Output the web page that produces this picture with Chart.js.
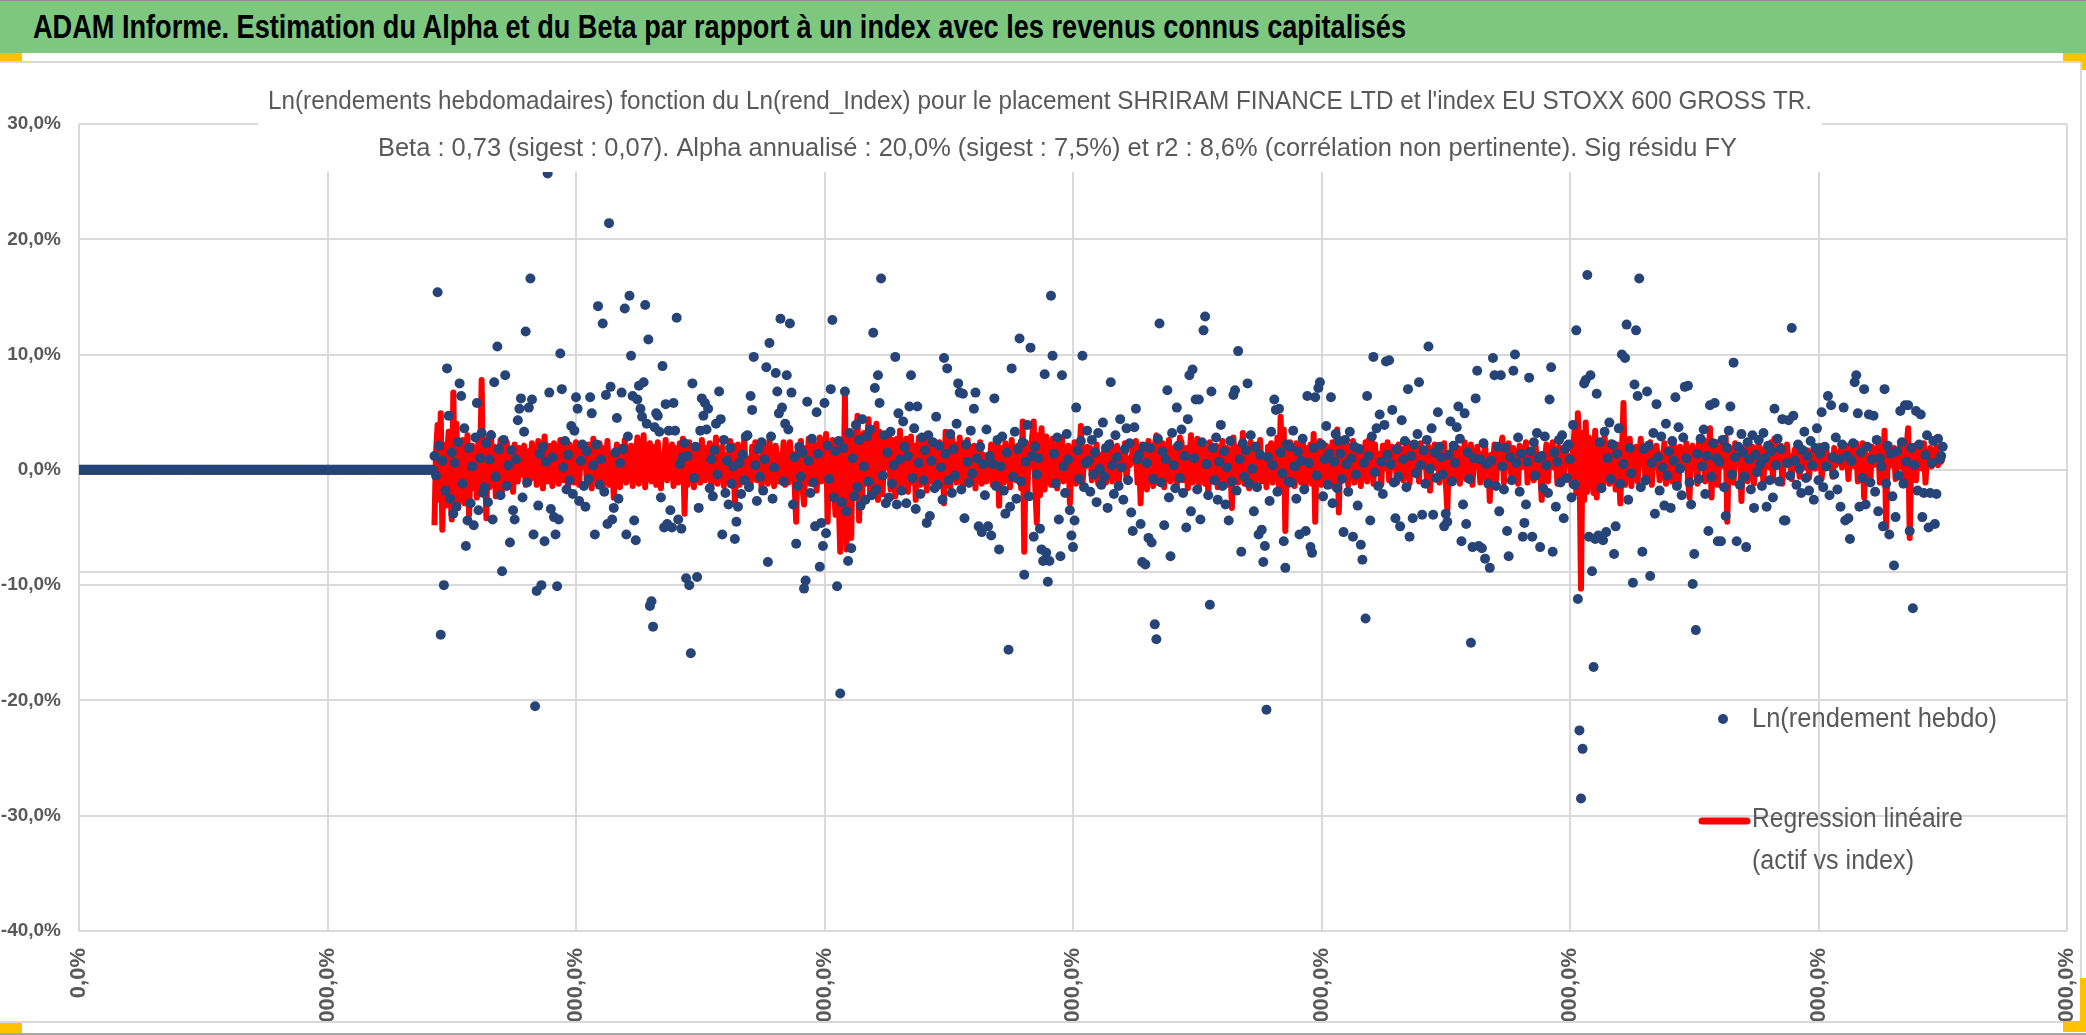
<!DOCTYPE html>
<html lang="fr">
<head>
<meta charset="utf-8">
<title>ADAM Informe - SHRIRAM FINANCE LTD</title>
<script src="https://cdn.jsdelivr.net/npm/chart.js@4.4.0/dist/chart.umd.min.js"></script>
<style>
  html, body { margin: 0; padding: 0; background: #fff; }
  #page { position: relative; width: 2086px; height: 1035px; overflow: hidden; background: #fff; }
  #bandeau { position: absolute; left: 0; top: 0; width: 2086px; height: 53px; background: #7dc77e; border-top: 1px solid #8c8c8c; box-sizing: border-box; }
  #titre { position: absolute; left: 33px; top: 0; line-height: 52px; white-space: nowrap; transform-origin: left center;
           font-family: 'Liberation Sans Narrow', 'Liberation Sans', Arial, sans-serif; font-weight: bold; font-size: 33px; color: #000; }
  .orange { position: absolute; background: #ffc000; }
  .trait { position: absolute; background: #d9d9d9; }
  #graphique { position: absolute; left: 0; top: 63px; }
</style>
</head>
<body>
<div id="page">
  <div id="bandeau"><span id="titre">ADAM Informe. Estimation du Alpha et du Beta par rapport à un index avec les revenus connus capitalisés</span></div>
  <div class="orange" style="left:0;top:53px;width:22px;height:8px"></div>
  <div class="orange" style="left:2063px;top:53px;width:23px;height:8px"></div>
  <div class="orange" style="left:2080px;top:53px;width:6px;height:17px"></div>
  <div class="trait" style="left:0;top:61px;width:2080px;height:2px"></div>
  <canvas id="graphique" width="2080" height="958"></canvas>
  <div class="trait" style="left:2080px;top:62px;width:2px;height:960px"></div>
  <div class="trait" style="left:0;top:1021px;width:2080px;height:2px"></div>
  <div class="orange" style="left:0;top:1023px;width:22px;height:10px"></div>
  <div class="orange" style="left:2080px;top:978px;width:6px;height:54px"></div>
  <div class="orange" style="left:2063px;top:1021px;width:23px;height:11px"></div>
  <div style="position:absolute;left:0;top:1033px;width:2086px;height:2px;background:#a6a6a6"></div>
</div>
<script>
const POLICE = "'Liberation Sans Narrow', 'Liberation Sans', Arial, sans-serif";
const GRIS_TEXTE = '#595959';
const GRILLE = '#d9d9d9';
const BLEU = '#264478';
const ROUGE = '#ff0000';

const sousTitre1 = "Ln(rendements hebdomadaires) fonction du Ln(rend_Index) pour le placement SHRIRAM FINANCE LTD et l'index EU STOXX 600 GROSS TR.";
const sousTitre2 = "Beta : 0,73 (sigest : 0,07). Alpha annualisé : 20,0% (sigest : 7,5%) et r2 : 8,6% (corrélation non pertinente). Sig résidu FY";
const legende1 = 'Ln(rendement hebdo)';
const legende2a = 'Regression linéaire';
const legende2b = '(actif vs index)';

// axe des x : semaines, une graduation toutes les 158 semaines
const semainesParGraduation = 158;
const xTickLabels = ['0,0%', '20000,0%', '40000,0%', '60000,0%', '80000,0%', '100000,0%', '120000,0%', '140000,0%', '160000,0%'];
const yMin = -40;
const yMax = 30;
const yPas = 10;
const ligneGuide = -8.85;

// début de l'historique : rendements nuls
const debutPlat = [
  0,0,0,0,0,0,0,0,0,0,0,0,0,0,0,0,0,0,0,0,
  0,0,0,0,0,0,0,0,0,0,0,0,0,0,0,0,0,0,0,0,
  0,0,0,0,0,0,0,0,0,0,0,0,0,0,0,0,0,0,0,0,
  0,0,0,0,0,0,0,0,0,0,0,0,0,0,0,0,0,0,0,0,
  0,0,0,0,0,0,0,0,0,0,0,0,0,0,0,0,0,0,0,0,
  0,0,0,0,0,0,0,0,0,0,0,0,0,0,0,0,0,0,0,0,
  0,0,0,0,0,0,0,0,0,0,0,0,0,0,0,0,0,0,0,0,
  0,0,0,0,0,0,0,0,0,0,0,0,0,0,0,0,0,0,0,0,
  0,0,0,0,0,0,0,0,0,0,0,0,0,0,0,0,0,0,0,0,
  0,0,0,0,0,0,0,0,0,0,0,0,0,0,0,0,0,0,0,0,
  0,0,0,0,0,0,0,0,0,0,0,0,0,0,0,0,0,0,0,0,
  0,0,0,0,0,0
];

// Ln(rendement hebdo) en %
const rendHebdo = [
  1.2, -0.5, 15.4, 2.1, -14.3, 0.8, -10.0, -1.8, 8.8, 4.7, -2.5, 1.5, -3.8, 0.6, -3.2, 2.4, 7.5, 6.4, -1.2, 3.6, -6.6, -4.4, 1.9, -2.9, 0.3, -4.8, 2.8, 5.8, -3.5, 1.0, 3.2, -2.0,
  -1.5, 2.3, -2.8, 0.9, 3.0, -4.3, 7.6, -0.6, 10.7, 1.8, -2.2, -8.8, 2.6, 8.2, -1.4, 0.4, -6.3, 1.7, -3.5, -4.3, 0.9, 4.3, 5.3, 6.2, -2.4, 3.3, 12.0, -1.1, 5.4, 16.6, 6.1, -5.6,
  -20.5, -10.5, -3.1, 1.4, -10.0, 2.0, -6.2, 0.7, 25.7, 6.7, -3.4, 1.1, -4.1, -5.6, -10.1, -4.3, 10.1, 7.0, 0.2, 2.5, -1.7, 1.3, -0.9, 3.8, -2.1, 3.4, 6.3, 5.3, -2.7, 0.8, 2.2, -1.4,
  -3.2, 1.6, -0.8, 6.3, 4.9, 0.4, -5.6, 2.2, 14.2, -1.3, 0.9, 12.7, -1.9, 6.5, -4.7, 21.4, 7.2, -4.3, -3.3, 1.5, 4.5, -2.5, 0.6, 6.7, 1.8, 14.0, -5.6, 2.9, 15.1, 9.9, 6.4, -4.4,
  -6.1, 6.1, 7.3, 5.3, 4.6, 7.6, 14.3, 4.0, 11.3, -11.8, -11.4, -13.6, 3.7, 4.9, 4.7, 3.3, -2.4, 9.0, -5.0, 5.7, -4.7, 3.4, -3.5, -5.0, 5.8, 3.4, 13.2, -4.3, 0.5, -5.1, 1.1, 2.3,
  -9.4, 1.2, -10.0, -15.9, 7.5, -0.7, 2.0, -9.3, -3.3, 3.4, 6.2, 4.7, 5.8, 3.5, 5.3, -1.6, 0.9, -2.3, 1.7, 4.0, -0.4, 6.8, 4.4, -5.6, 2.6, -2.0, 0.8, -3.0, 1.9, -1.2, 0.3, -6.0,
  -4.5, -3.2, 0.6, -2.1, 1.3, -0.9, 2.9, 3.0, -1.5, 6.4, 5.2, 9.8, 0.4, -2.7, 1.8, -0.6, 2.4, -1.8, 0.9, 8.9, -8.0, 11.0, 2.9, -2.5, 0.2, 8.4, 6.8, 4.9, 13.1, 5.4, -1.0, 4.0,
  8.2, 3.5, 12.7, 6.7, -3.0, 1.1, -6.4, -1.4, 2.0, -0.6, 1.5, -10.3, -9.6, 5.9, 0.8, -2.0, 2.7, -1.1, -4.9, 5.0, 1.4, -8.4, -4.6, -6.6, 5.8, -5.5, 2.1, -0.8, 7.0, 13.0, -2.4, 1.6,
  -10.1, 2.5, -19.4, -2.8, 1.9, 6.8, -3.6, -7.9, 3.2, -6.8, 1.0, -2.3, 3.9, -1.5, 2.6, -3.1, 4.4, 0.3, -2.6, 2.9, -1.0, 3.5, -2.2, 11.9, 7.1, -1.7, 8.2, 5.8, 16.6, -0.5, 3.0, -2.9,
  1.5, -2.4, 3.3, -1.2, 0.4, 9.8, -3.0, 4.9, 0.9, -1.8, 4.2, 2.0, -2.9, 1.2, 5.5, 8.2, -0.7, 3.6, -3.4, 5.5, 0.6, -2.1, 2.8, -0.9, 1.7, -4.6, 3.0, -4.0, 0.8, 2.4, -1.6, 4.6,
  -1.3, 2.1, 0.2, -2.6, 9.7, 1.4, 8.8, -0.9, 3.1, -2.0, 1.8, -0.5, 4.0, 7.5, 6.7, -1.7, 6.6, -4.2, 2.2, 0.7, -1.1, 3.4, -0.3, 5.3, 6.7, 1.0, -4.9, 2.0, -5.4, 0.5, -2.2, 3.5,
  -4.9, 1.2, -5.7, 0.5, 6.2, -1.4, 2.6, -6.9, 0.3, 2.9, -1.8, -3.8, 1.5, -15.6, -3.2, 8.8, -0.6, 3.3, -2.5, 1.8, 11.4, -1.0, 2.4, -9.1, 0.7, 3.9, -2.3, 10.6, 1.2, -5.8, 2.0, -0.4,
  1.0, -5.1, -6.9, -7.9, 8.3, -7.2, -9.7, -7.9, 15.1, 9.9, 1.4, -1.2, 2.8, -4.3, -7.5, 8.2, 0.3, -2.0, 3.1, 0.9, -3.5, -5.7, -6.7, -4.4, 5.4, 1.7, -0.8, 2.5, 9.9, -1.5, 0.6, 3.4,
  0.8, -1.9, 2.6, -0.4, 1.5, -2.8, 3.2, 0.1, -1.3, 4.1, -0.6, 1.9, -3.3, 2.2, 7.6, 0.4, -2.1, 3.0, 1.1, -1.4, 4.4, 0.2, -2.6, 1.8, 3.6, -0.9, 2.3, -3.7, -5.3, 3.7, 5.3, 0.9,
  1.3, -4.7, -8.0, 2.0, -8.2, 0.6, -5.9, 1.9, -6.3, -0.8, -13.4, -14.7, 2.7, 12.7, -1.1, 1.6, -4.8, 0.9, 6.9, -2.4, -7.5, 3.2, 0.4, -1.6, 5.4, 2.1, -0.7, 3.5, -2.0, 1.2, -5.0, 4.4,
  8.2, -3.6, 8.7, 1.0, 6.1, -1.7, 6.1, -4.3, 2.4, 12.1, 13.3, 0.5, -2.2, -11.7, 6.8, 1.9, -0.9, 2.8, -2.6, 0.7, 3.9, -1.4, 1.6, -3.0, 0.2, -4.4, 2.5, -1.0, 6.5, 6.9, -1.8, 10.3,
  0.9, -7.1, 2.3, -0.6, 1.7, 7.5, -1.2, 3.0, 0.1, -3.6, 2.0, -1.5, -5.6, 1.3, -5.2, -8.0, -6.6, -20.8, 1.1, -2.7, 3.3, 0.4, 6.1, 5.2, -1.9, 5.3, 1.5, -0.3, -6.2, -8.5, 2.2, -1.0,
  2.0, -1.1, 3.4, 0.3, -2.5, 1.6, -5.6, 0.8, 2.7, -1.7, -5.3, 6.4, 0.6, -6.7, -7.2, 1.9, 6.3, -0.5, 7.1, 7.6, 2.2, -2.3, 0.9, 3.8, -1.3, 1.4, 6.3, -2.9, 0.7, 3.1, -1.6, 2.5,
  1.4, -0.8, -5.4, 2.6, 0.5, -1.9, 3.3, 1.0, -5.8, 2.0, -0.4, -3.1, 1.8, -6.5, -7.8, 0.6, -12.9, 6.4, 1.2, -4.4, 2.9, 9.8, -0.2, 3.6, -1.4, 4.8, 0.7, -2.1, 3.9, 9.4, 1.3, 9.5,
  0.5, 5.2, -1.1, -4.2, 1.8, -0.6, -4.9, 4.3, 0.9, 2.5, -1.5, 7.0, -5.8, 1.2, -4.2, 2.2, -0.3, 3.1, 7.6, 0.4, -3.9, 1.7, -1.2, 2.6, 10.7, 0.1, 3.6, -3.9, 1.5, -0.7, 5.0, 2.0,
  1.1, -0.4, -4.9, -3.8, -4.5, 1.3, 4.2, -1.0, 2.1, 0.6, 3.7, 5.5, 2.7, -6.2, -3.0, 4.9, -4.7, 1.5, -0.8, -15.0, -6.7, 1.0, 6.2, 8.6, -6.6, 0.9, -6.8, 2.3, -7.7, 0.5, -1.2, -8.5,
  0.8, 9.7, 8.2, -1.4, 2.0, -3.6, 8.2, 0.3, -1.7, 1.9, -5.3, -7.5, 1.1, -0.9, 8.6, 10.0, 0.6, 2.8, -1.9, 1.4, -5.8, -4.6, -3.0, 0.7, 8.0, 1.6, -5.8, 2.4, -0.5, 3.2, 1.0, -6.7,
  1.2, -1.6, 2.9, 0.4, -2.0, 6.1, 8.9, -7.1, 1.5, -3.2, 0.7, 2.6, -1.1, 3.0, -4.2, 1.8, -0.7, 2.2, 0.9, -2.4, 3.9, -1.3, 12.1, -11.2, -22.6, -28.5, -24.2, 7.5, 7.8, 16.9, -5.8, 8.2,
  -8.8, -17.1, -6.0, 6.6, -5.7, 2.4, -1.6, -6.1, 3.3, -5.4, 1.0, 4.1, -0.8, 2.2, -7.3, -4.9, 1.4, 3.6, -1.2, 10.0, 0.5, 9.7, 12.6, -2.6, 1.9, -0.3, -9.8, 7.4, 12.1, 6.4, 16.6, -1.5,
  -7.1, 1.8, -0.9, 6.8, 2.1, -9.2, 0.6, 3.2, -3.8, 5.7, 1.1, -1.8, 2.9, 0.2, -3.1, 4.0, -0.5, 1.6, -3.3, 2.5, 0.8, 6.3, -1.4, 3.7, 0.1, -2.2, 2.8, 7.2, 1.0, 7.3, -1.1, -3.0,
  -9.9, -7.3, -13.9, 1.4, -0.8, 2.7, 0.3, 3.5, -2.1, 1.2, -5.3, 5.6, -0.6, 2.3, 5.8, 1.0, -6.2, 0.7, -6.2, 2.6, -1.5, -4.0, 1.9, 3.4, 5.5, -0.4, 9.3, 1.1, -6.2, 2.0, -1.3, 3.1,
  1.5, -0.6, -6.7, 2.4, 0.9, -1.7, 3.0, -3.3, 1.3, -0.2, 2.6, 0.5, -1.4, 3.2, 1.0, -3.2, 2.1, -0.9, 1.6, -2.4, 5.3, 0.4, 2.7, -1.0, 1.8, 4.4, -4.4, -4.4, 0.6, 4.3, -0.5, 12.3,
  4.7, 0.8, -1.3, 2.2, 0.1, -2.0, 1.7, 3.3, -0.7, 1.2, -1.8, 2.5, 0.4, -2.6, 1.9, 3.6, -0.9, 1.4, 5.0, -1.5, 2.0, 0.3, 6.4, -2.2, 5.6, 1.1, -0.4, 2.8, -1.7, 0.9, -3.2, 2.2,
  5.4, -4.4, 1.2, -4.2, -6.0, 0.8, 2.3, 7.6, 8.2, 4.9, -3.2, 1.5, -0.7, 7.0, -3.0, 2.0, 4.8, -1.1, 0.9, 4.7, -1.9, 2.6, -3.6, 1.0, 0.3, -4.9, 7.0, -1.2, 2.1, -5.6, 1.4, -2.3,
  -8.3, -4.1, 1.6, -0.5, 5.1, 2.4, -1.2, 5.6, 0.7, 5.6, -5.3, 1.9, -12.0, 0.4, 5.1, -1.8, 2.2, 4.8, -4.1, -2.0, 1.3, 3.0, -5.0, -2.0, 0.6, 2.5, -4.7, -2.1, 2.7, 0.9, 1.2, 2.0
];

// Regression linéaire (actif vs index) en %
const regression = [
  -4.8, 1.5, 3.9, -2.6, 4.9, -5.2, 2.2, -3.1, 1.0, 3.3, -1.8, -4.3, 6.7, -2.2, 4.0, -3.3, 1.8, -0.9, 2.6, -2.9, 1.2, 3.0, -3.9, 0.4, 2.1, -1.6, 1.3, -2.4, 2.8, -0.7, 7.8, -2.0,
  1.9, -4.2, 2.7, -1.5, 3.2, -0.9, 2.0, -2.3, 1.4, 0.2, 2.6, -1.8, 1.1, -0.6, 2.4, -1.2, 1.7, 0.3, -1.9, 2.2, 0.6, -1.0, 1.9, -0.4, 1.3, 2.1, -1.3, 0.9, 1.6, -0.8, 2.3, 0.1,
  0.9, -1.3, 2.5, 0.3, 1.4, -1.6, 2.9, 0.5, -1.0, 2.1, 0.8, -1.4, 2.3, 0.1, 1.2, -1.2, 2.6, 0.6, -0.9, 1.9, 0.9, -1.5, 2.2, 0.4, 1.1, -1.1, 2.4, 0.7, -1.3, 2.0, 0.2, 1.3,
  1.2, -1.2, 2.2, 0.6, -1.6, 2.7, 0.4, 1.1, -1.0, 2.3, 0.8, -1.8, 1.9, 0.2, 2.5, -1.3, 0.9, 1.4, -2.4, 0.7, 2.2, 0.1, -1.5, 2.0, 0.5, 2.6, -1.1, 1.0, 0.3, 2.1, -1.4, 1.2,
  0.6, 2.8, -1.2, 1.3, 0.2, 3.0, -1.5, 1.1, 0.4, 2.3, -1.0, 0.9, 2.0, -1.3, 2.4, 0.5, -1.6, 1.4, 0.8, 2.6, -0.9, 1.0, 0.3, 2.2, -1.4, 1.9, 0.6, -1.1, 2.3, 0.1, 2.7, -3.8,
  1.4, -1.3, 2.4, 0.3, 1.1, -1.5, 2.1, 0.5, 0.9, -1.1, 2.6, 0.7, -0.9, 1.9, 0.1, 2.3, -1.6, 1.2, 0.6, 2.8, -1.2, 1.0, 0.2, 2.0, -1.4, 1.3, 0.8, -1.0, 2.5, 0.4, 2.1, -2.9,
  0.9, 2.2, -1.3, 1.2, 0.4, 2.7, -1.1, 1.0, 0.7, -1.5, 2.0, 0.3, 2.4, -0.9, 1.1, 0.5, -1.6, 2.3, 0.8, 1.4, -1.2, 2.6, 0.2, 1.0, -1.4, 2.1, 0.6, -1.0, 1.3, 0.1, 2.4, -1.3,
  1.2, -1.1, 2.4, 0.5, 1.4, -1.3, -4.5, 2.1, 0.3, 2.5, -1.5, -3.0, 1.9, 0.6, 2.7, -1.2, 1.0, 0.2, 2.2, -1.8, 0.9, 2.8, -1.0, 1.3, 0.4, 3.1, -4.5, 2.0, 0.1, 2.6, -1.4, -3.9,
  2.1, -2.3, -7.1, 1.5, -2.9, 6.6, -6.9, 2.8, -1.9, -5.9, 3.0, -1.5, 2.5, 4.7, -4.4, 1.9, -2.3, 3.2, -1.2, 2.4, 4.4, -2.0, 3.6, -1.6, 2.2, 4.0, -2.6, 3.3, 0.4, -2.1, 2.6, 0.2,
  2.0, 3.0, -1.7, 2.6, 0.4, -2.3, 2.7, 0.8, 3.4, -1.4, 1.9, 0.2, 2.7, -1.9, 1.1, 2.9, -1.1, 2.1, -2.6, 0.9, 2.8, -1.3, 1.3, 0.5, 2.8, -1.8, 1.0, 2.5, -1.0, 2.0, 0.7, -1.6,
  0.8, 2.4, -1.2, 1.4, -2.9, 3.3, 0.6, 2.7, -1.5, 3.0, 0.9, 2.2, -1.1, 1.2, 2.8, 0.3, -1.7, 2.3, 0.5, 2.6, -1.3, 1.1, 0.7, 2.1, -1.6, 1.4, 0.2, 2.4, -1.2, 1.3, 0.8, -1.0,
  1.0, 0.3, 2.2, -1.3, 1.2, 0.5, 2.5, -3.1, 0.9, 1.9, -1.1, 2.3, 0.2, 1.1, -1.5, 2.6, 0.6, 1.4, -0.9, 2.1, 0.4, -1.6, 4.2, -7.1, 2.4, -1.9, 2.0, 0.3, 2.8, 4.2, -1.5, -4.6,
  3.0, -2.2, 3.6, 0.4, -1.7, 2.9, 0.7, 1.9, -1.3, 2.7, 0.1, 1.2, -1.6, 2.3, 0.5, 2.8, -1.0, 1.0, 0.6, 2.1, -2.9, 1.3, 0.2, 2.4, -1.2, 1.4, 0.8, 3.8, -1.4, 1.1, 0.3, 2.0,
  0.7, 1.9, -0.9, 1.1, 0.4, 2.2, -1.2, 0.9, 1.3, 0.1, 2.0, -1.1, 1.0, 0.6, 2.4, -1.0, 1.2, 0.5, 2.1, -1.3, 0.8, 1.4, 0.2, 2.3, -0.9, 1.0, 0.4, 0.6, 1.9, 0.7, 2.5, -1.1,
  1.3, -2.9, 2.2, 0.2, 1.0, -1.7, 2.5, 0.6, 1.4, -1.4, 2.1, 3.0, -1.1, 1.2, 0.3, 2.3, -1.5, 1.1, 0.5, 2.6, -1.0, 1.0, 0.7, 2.0, -1.3, 1.3, 2.8, 2.4, -0.9, 0.9, 1.9, -1.6,
  0.8, 3.0, -1.1, 1.3, 0.5, 2.7, -1.4, 1.1, 0.2, 2.2, -1.2, 1.4, -2.0, 2.4, -1.0, 1.0, 0.4, 2.1, -1.5, 1.2, 0.7, 2.5, -0.9, 0.9, 1.9, -1.3, 1.1, -3.3, 2.8, 0.3, 2.0, -1.1,
  1.0, 0.4, 3.2, -1.2, 1.9, 0.8, -1.6, 2.4, 0.3, 1.3, -1.3, 2.2, 0.6, 2.6, -1.0, 1.1, 0.5, -1.5, 2.0, 0.2, 2.3, -1.1, 1.2, 0.7, 2.8, -1.7, 4.6, 0.3, 3.5, -5.3, 2.1, -1.3,
  2.4, 0.1, 1.3, -1.4, 2.3, 0.5, 1.1, -1.1, 2.6, 0.8, -1.6, 1.9, 0.3, 2.2, -1.2, 3.1, -4.5, 2.0, 0.4, 2.5, -1.3, 1.0, 0.7, 2.1, -1.0, 1.2, 0.2, 2.4, -1.5, 1.4, 3.5, -3.7,
  1.9, -0.9, 2.3, 0.6, 1.1, -1.3, 2.1, 0.3, 2.5, -1.1, 1.0, 0.8, 2.0, -1.4, 1.3, 0.4, 2.4, -1.0, 2.6, 0.5, 2.8, -1.2, 2.2, 0.2, 1.4, 0.9, -1.3, 2.1, 0.1, 1.1, 2.4, -0.9,
  0.9, 2.0, 0.2, 1.2, -1.1, 2.2, 0.6, 1.0, -0.9, 1.9, 0.4, 2.4, -1.2, 1.1, 0.7, 2.1, 0.1, 1.3, -1.0, 2.3, 0.5, 0.9, 1.4, -0.8, 2.0, -1.8, 1.0, 0.6, 2.2, 0.2, 1.2, -1.1,
  1.4, 0.3, 2.3, -1.0, -3.5, 1.2, 0.6, 2.1, -0.9, 1.0, 0.8, 1.9, -1.2, 1.3, 0.4, 2.4, -0.8, 1.1, 0.7, 2.2, -1.3, 1.2, 0.3, 2.0, 0.9, -1.1, 1.4, 0.2, 2.3, -1.0, 1.0, -2.7,
  1.3, 0.5, 2.2, -0.9, 1.1, 0.7, 2.0, 2.8, -1.1, 1.2, 0.3, 2.3, 0.6, -1.0, 1.9, 0.9, 1.3, -1.2, 2.1, 0.2, 1.1, 0.8, 2.4, -1.1, 1.4, 0.5, 1.2, -0.9, 2.2, 0.6, 1.0, 0.3,
  -2.6, 1.4, 0.6, 2.2, -1.0, 1.1, 0.5, 2.4, 0.2, 1.3, -1.2, 2.0, 0.8, 1.0, -0.9, 2.1, 0.4, 1.2, 0.9, -1.3, 1.9, 3.6, -2.0, 4.9, 1.2, -10.3, 3.2, -2.6, 4.1, -1.9, 2.8, 0.4,
  2.6, -2.0, 3.4, -2.4, 2.5, 0.3, 2.1, -1.5, 2.9, 0.6, 1.4, -1.2, 2.4, 0.2, 1.1, -1.7, 2.2, 0.5, -2.9, 1.3, 5.8, -1.3, 2.3, 0.4, 2.7, -1.4, 1.2, 0.8, 2.0, -1.0, 1.0, 2.7,
  0.5, 2.0, -1.1, 1.2, 0.8, 2.4, -1.3, 1.1, 0.3, 2.1, 0.9, -0.9, 1.4, 0.6, 2.3, -1.2, 1.0, 0.4, 1.9, -1.0, 2.2, 0.7, 1.2, -1.3, 2.0, 0.2, 1.1, 0.8, 2.3, -0.8, -2.4, 1.3,
  2.1, 0.2, 1.2, -1.2, 2.3, 0.6, 1.0, 2.6, -1.0, 1.4, 0.8, 3.6, -2.4, 1.9, 0.4, 2.4, -1.3, 1.1, 0.7, 2.2, 0.3, 2.8, -4.5, 2.0, 0.5, 1.2, -1.1, 2.3, 0.6, 1.0, 1.9, -2.7,
  1.3, 0.4, 2.2, -1.0, 1.1, 0.8, 2.0, -1.2, 1.2, 0.6, 2.3, 0.1, 1.0, -1.1, 1.9, 0.7, 1.3, 0.2, 2.4, -0.9, 2.7, 0.9, 1.4, 0.3, 2.1, -1.2, 1.1, 0.6, 2.2, 0.4, 1.2, -0.8,
  0.9, 1.8, 0.3, 1.2, -0.6, 2.0, 0.6, 1.0, 0.2, 1.7, -0.7, 1.1, 0.8, 1.9, 0.1, 1.3, 0.5, 2.1, -0.8, 1.0, 0.7, 1.8, 0.3, 1.2, 0.9, -0.6, 1.9, 0.4, 1.1, 0.6, 1.7, 0.2,
  1.2, 0.5, 2.1, -0.8, 1.1, 0.8, 1.9, 0.3, 2.3, -1.0, 1.0, 0.6, 2.3, -2.4, 1.4, 0.7, 1.2, -0.9, 2.0, 0.4, 1.1, 0.9, 2.2, -1.1, 1.3, 0.2, 3.4, -5.0, 2.0, 0.3, 1.2, 0.8,
  1.9, -0.8, 1.1, 0.6, 2.2, 0.2, 1.3, -1.0, 2.0, 3.6, -5.9, 1.2, 0.5, 2.1, -0.9, 1.0, 0.8, 1.8, 0.1, 2.3, -1.1, 1.2, 0.6, 1.9, 0.3, 1.1, 0.9, 2.0, 0.4, 1.2, 0.7, 1.0
];

const pointsHebdo = debutPlat.concat(rendHebdo).map((v, i) => ({ x: i, y: v }));
const pointsRegression = regression.map((v, i) => ({ x: debutPlat.length + i, y: v }));

function texteAjuste(ctx, texte, x, y, largeur, police, couleur) {
  ctx.save();
  ctx.font = police;
  ctx.fillStyle = couleur;
  ctx.textBaseline = 'middle';
  ctx.textAlign = 'left';
  const w = ctx.measureText(texte).width;
  ctx.translate(x, y);
  ctx.scale(largeur / w, 1);
  ctx.fillText(texte, 0, 0);
  ctx.restore();
}

// titre, légende et ligne de guide façon Excel
const habillage = {
  id: 'habillage',
  beforeDatasetsDraw(chart) {
    const { ctx, chartArea, scales } = chart;
    const y = scales.y.getPixelForValue(ligneGuide);
    ctx.save();
    ctx.strokeStyle = GRILLE;
    ctx.lineWidth = 2;
    ctx.beginPath();
    ctx.moveTo(chartArea.left, y);
    ctx.lineTo(chartArea.right, y);
    ctx.stroke();
    ctx.restore();
  },
  afterDraw(chart) {
    const { ctx, chartArea } = chart;
    ctx.save();
    ctx.fillStyle = '#fff';
    ctx.fillRect(258, 0, 1564, chartArea.top + 48);
    ctx.restore();
    texteAjuste(ctx, sousTitre1, 268, chartArea.top - 22, 1544, '25px ' + POLICE, GRIS_TEXTE);
    texteAjuste(ctx, sousTitre2, 378, chartArea.top + 25, 1359, '25px ' + POLICE, GRIS_TEXTE);

    const r = chartArea.right, b = chartArea.bottom;
    ctx.save();
    ctx.fillStyle = BLEU;
    ctx.beginPath();
    ctx.arc(r - 344, b - 212, 5, 0, Math.PI * 2);
    ctx.fill();
    ctx.strokeStyle = ROUGE;
    ctx.lineWidth = 7;
    ctx.lineCap = 'round';
    ctx.beginPath();
    ctx.moveTo(r - 365, b - 110);
    ctx.lineTo(r - 320, b - 110);
    ctx.stroke();
    ctx.restore();
    texteAjuste(ctx, legende1, r - 315, b - 211, 245, '27px ' + POLICE, GRIS_TEXTE);
    texteAjuste(ctx, legende2a, r - 315, b - 111, 211, '27px ' + POLICE, GRIS_TEXTE);
    texteAjuste(ctx, legende2b, r - 315, b - 69, 162, '27px ' + POLICE, GRIS_TEXTE);
  }
};

const ctx = document.getElementById('graphique').getContext('2d');
const chart = new Chart(ctx, {
  type: 'scatter',
  data: {
    datasets: [
      {
        label: legende1,
        data: pointsHebdo,
        showLine: false,
        pointRadius: 5,
        pointBackgroundColor: BLEU,
        pointBorderWidth: 0,
        order: 1
      },
      {
        label: legende2a + ' ' + legende2b,
        data: pointsRegression,
        showLine: true,
        borderColor: ROUGE,
        borderWidth: 6,
        borderJoinStyle: 'round',
        pointRadius: 0,
        order: 2
      }
    ]
  },
  options: {
    responsive: false,
    animation: false,
    events: [],
    layout: { padding: { top: 61, right: 13, left: 0, bottom: 0 } },
    plugins: {
      legend: { display: false },
      tooltip: { enabled: false }
    },
    scales: {
      x: {
        type: 'linear',
        min: 0,
        max: semainesParGraduation * (xTickLabels.length - 1),
        afterBuildTicks: s => { s.ticks = xTickLabels.map((_, k) => ({ value: k * semainesParGraduation })); },
        afterFit: s => { s.height = 90; s.paddingLeft = 0; s.paddingRight = 0; },
        ticks: {
          autoSkip: false,
          minRotation: 90,
          maxRotation: 90,
          padding: 17,
          color: GRIS_TEXTE,
          font: { family: POLICE, size: 22, weight: 'bold' },
          callback: (v, i) => xTickLabels[i]
        },
        grid: { color: GRILLE, lineWidth: 2, drawTicks: false },
        border: { display: false }
      },
      y: {
        min: yMin,
        max: yMax,
        afterFit: s => { s.width = 79; s.paddingTop = 0; s.paddingBottom = 0; },
        ticks: {
          stepSize: yPas,
          padding: 18,
          color: GRIS_TEXTE,
          font: { family: POLICE, size: 19, weight: 'bold' },
          callback: v => v.toFixed(1).replace('.', ',') + '%'
        },
        grid: { color: GRILLE, lineWidth: 2, drawTicks: false },
        border: { display: false }
      }
    }
  },
  plugins: [habillage]
});

// titre du bandeau à la largeur du modèle
const titre = document.getElementById('titre');
const largeurTitre = titre.getBoundingClientRect().width;
titre.style.transform = 'scaleX(' + (1373 / largeurTitre) + ')';
</script>
</body>
</html>
